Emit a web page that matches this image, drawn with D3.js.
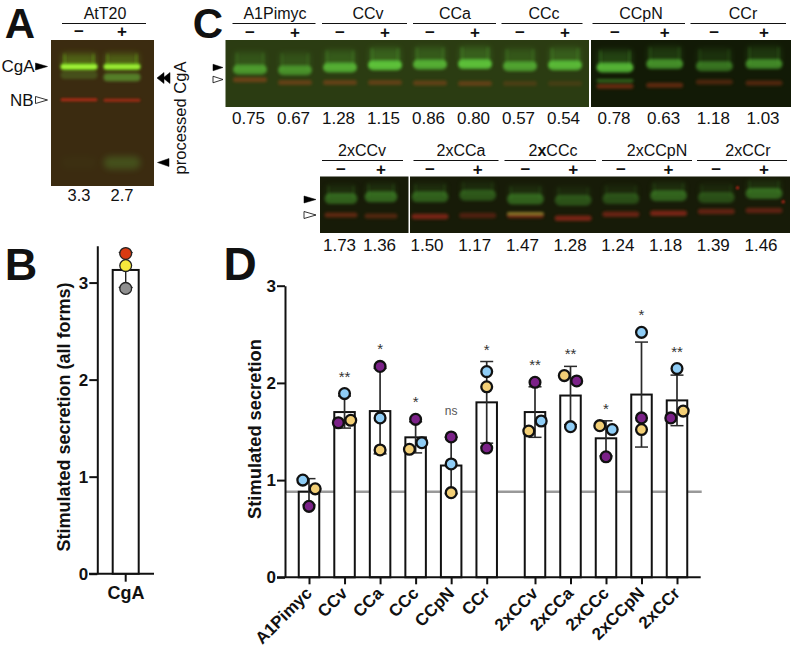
<!DOCTYPE html>
<html><head><meta charset="utf-8">
<script src="https://cdn.jsdelivr.net/npm/d3@7/dist/d3.min.js"></script>
<style>
html,body{margin:0;padding:0;background:#fff}
svg{display:block}
text{font-family:"Liberation Sans",Arial,sans-serif;fill:#111}
</style></head><body>
<svg id="c" width="791" height="650"></svg>
<script>
// ---------- Panel D data ----------
const singles = ["A1Pimyc","CCv","CCa","CCc","CCpN","CCr"];
const doubles = ["2xCCv","2xCCa","2xCCc","2xCCpN","2xCCr"];
const categories = singles.concat(doubles);
const means   = [0.88,1.70,1.71,1.44,1.15,1.80,1.70,1.87,1.43,1.88,1.82];
const sds     = [0.135,0.165,0.44,0.16,0.29,0.42,0.26,0.30,0.18,0.54,0.26];
const blue    = [1.00,1.89,1.64,1.385,1.166,2.116,1.608,1.55,1.52,2.52,2.147];
const yellow  = [0.91,1.615,1.31,1.317,0.871,1.96,1.505,2.075,1.56,1.52,1.71];
const purple  = [0.73,1.59,2.17,1.625,1.444,1.33,2.006,2.02,1.24,1.64,1.64];
const leftOfPair = ["blue","purple","","yellow","","","yellow","yellow","yellow","","purple"];
const signif  = ["","**","*","*","ns","*","**","**","*","*","**"];
const baseline = 0.88;

// ---------- Panel B data ----------
const panelBCategory = ["CgA"];
const panelBMean = [3.13];
const panelBSd = [0.18];
const panelBPoints = [3.30,3.175,2.94];
const panelBColors = ["#d93a12","#f5e83c","#8f8f8f"];

// ---------- Blot labels ----------
const topGroups = ["A1Pimyc","CCv","CCa","CCc","CCpN","CCr"];
const bottomGroups = ["2xCCv","2xCCa","2xCCc","2xCCpN","2xCCr"];
const signs = ["−","+"];
const panelAValues = ["3.3","2.7"];
const topValuesL = ["0.75","0.67","1.28","1.15","0.86","0.80","0.57","0.54"];
const topValuesR = ["0.78","0.63","1.18","1.03"];
const bottomValuesL = ["1.73","1.36"];
const bottomValuesR = ["1.50","1.17","1.47","1.28","1.24","1.18","1.39","1.46"];

// ---------- Blot band readings: migration as % of blot height, intensity 0-1 ----------
const panelAGreen1 = [18.3,18.3], panelAGreen1I = [1,0.95];
const panelAGreen2 = [24,25.5],   panelAGreen2I = [0.22,0.5];
const panelARed    = [41,41.2],   panelARedI    = [0.62,0.55];
const panelAProc   = [84,84],     panelAProcI   = [0.03,0.28];

const topLGreen = [44,45,41,37.5,36.5,36,39,37.5], topLGreenI = [0.55,0.5,0.68,0.82,0.68,0.8,0.6,0.75];
const topLRed   = [59.5,63.5,63.5,63.5,64,65,65,65], topLRedI = [0.45,0.4,0.4,0.38,0.38,0.38,0.22,0.18];
const topRGreen = [41,36,39,36], topRGreenI = [0.75,0.55,0.42,0.52];
const topRGreen2 = [61,61,61,61], topRGreen2I = [0.4,0,0,0];
const topRRed   = [69,67.5,62.5,64], topRRedI = [0.55,0.5,0.38,0.42];
const botLGreen = [39,36], botLGreenI = [0.42,0.45];
const botLRed   = [68,70], botLRedI = [0.42,0.35];
const botRGreen = [36,33,40,42,39,34,37,30], botRGreenI = [0.4,0.35,0.42,0.32,0.3,0.42,0.3,0.45];
const botRRed   = [71,69,69,74,67,65,62,60], botRRedI = [0.62,0.36,0.52,0.62,0.52,0.62,0.48,0.45];
const botRYellow = [67,67,66,67,67,67,67,67], botRYellowI = [0,0,0.5,0,0,0,0,0];
const botRSpeckX = [86.2,98.2], botRSpeckY = [19.8,44.6];

const svg = d3.select("#c");
const defs = svg.append("defs");
[["b1",0.9],["b2",1.6],["b3",3]].forEach(([id,s])=>{
  defs.append("filter").attr("id",id).attr("x","-30%").attr("y","-100%").attr("width","160%").attr("height","300%")
    .append("feGaussianBlur").attr("stdDeviation",s);
});

function label(g,txt,x,y,size,opts={}){
  return g.append("text").attr("x",x).attr("y",y).attr("font-size",size)
    .attr("text-anchor",opts.anchor||"middle").attr("font-weight",opts.weight||"normal")
    .attr("letter-spacing",opts.spacing||0).text(txt);
}
function arrow(g,tipX,y,filled,w=12,h=7){
  const p=d3.path(); p.moveTo(tipX,y); p.lineTo(tipX-w,y-h/2); p.lineTo(tipX-w,y+h/2); p.closePath();
  g.append("path").attr("d",p.toString()).attr("fill",filled?"#000":"#fff").attr("stroke","#000").attr("stroke-width",filled?0.5:0.8);
}
function rule(g,x0,x1,y){ g.append("line").attr("x1",x0).attr("x2",x1).attr("y1",y).attr("y2",y).attr("stroke","#111").attr("stroke-width",1.2); }

function blot(g,box,lanes,laneWidth,bg,tracks){
  const clip="clip"+Math.round(box.x0)+"_"+Math.round(box.y0);
  defs.append("clipPath").attr("id",clip).append("rect").attr("x",box.x0).attr("y",box.y0).attr("width",box.x1-box.x0).attr("height",box.y1-box.y0);
  g.append("rect").attr("x",box.x0).attr("y",box.y0).attr("width",box.x1-box.x0).attr("height",box.y1-box.y0).attr("fill",bg);
  const inner=g.append("g").attr("clip-path",`url(#${clip})`);
  const yS=d3.scaleLinear([0,100],[box.y0,box.y1]);
  tracks.forEach(t=>{
    lanes.domain().forEach((l,i)=>{
      const cx=lanes(l), cy=yS(t.ys[i]), k=t.is[i];
      if(!k) return;
      if(t.haze){
        inner.append("rect").attr("x",cx-laneWidth/2+2).attr("width",laneWidth-4).attr("y",cy-t.haze).attr("height",t.haze)
          .attr("fill",t.color).attr("opacity",k*0.3).attr("filter","url(#b3)");
        [-1,1].forEach(s=>inner.append("rect").attr("x",cx+s*(laneWidth/2-4)-1.5).attr("width",3).attr("y",cy-t.haze).attr("height",t.haze)
          .attr("fill",t.color).attr("opacity",k*0.25).attr("filter","url(#b2)"));
      }
      inner.append("rect").attr("x",cx-laneWidth/2).attr("width",laneWidth).attr("y",cy-t.h/2).attr("height",t.h).attr("rx",t.h/2)
        .attr("fill",t.color).attr("opacity",Math.min(1,k)).attr("filter",`url(#${t.blur||"b2"})`);
      if(t.core){
        inner.append("rect").attr("x",cx-laneWidth/2+1).attr("width",laneWidth-2).attr("y",cy-t.h/5).attr("height",t.h*0.4)
          .attr("fill",t.core).attr("opacity",k*k*(t.coreK||0.3)).attr("filter","url(#b1)");
      }
    });
  });
  return {inner,box};
}
function laneText(g,lanes,texts,y,size,opts={}){
  lanes.domain().forEach((l,i)=>label(g,texts[i],lanes(l)+(opts.dx||0),y,size,opts));
}
const signsFor = n => d3.range(n).map(i=>signs[i%2]);

// ---------- Panel A ----------
const A=svg.append("g");
label(A,"A",20,38,42,{weight:"bold"});
const aLanes=d3.scalePoint(["−","+"],[79,122]);
blot(A,{x0:51,x1:154,y0:40,y1:186},aLanes,37,"#3b2b10",[
  {ys:panelAProc,is:panelAProcI,color:"#5fb03a",h:13,blur:"b3"},
  {ys:panelAGreen2,is:panelAGreen2I,color:"#6fd040",h:8},
  {ys:panelARed,is:panelARedI,color:"#d42a18",h:3.5,blur:"b1"},
  {ys:panelAGreen1,is:panelAGreen1I,color:"#7fe024",h:6.5,haze:13,core:"#c6ff50",coreK:0.6}
]);
label(A,"AtT20",105,19,16);
rule(A,62,146,23.5);
laneText(A,aLanes,signs,36.5,17,{weight:"bold"});
laneText(A,aLanes,panelAValues,201,16.5);
label(A,"CgA",1.5,71.7,17,{anchor:"start"});
label(A,"NB",10,106,17,{anchor:"start"});
arrow(A,47.5,66.5,true); arrow(A,47.5,100,false);
arrow(A,157,78,true,-7,11);
arrow(A,163,78,true,-7,11);
arrow(A,157.5,162.5,true,-11.5,8);
label(A,"processed CgA",0,0,16.5).attr("transform","translate(186,118) rotate(-90)");

// ---------- Panel C ----------
const C=svg.append("g");
label(C,"C",208,38,42,{weight:"bold"});
const greenStyle={color:"#5fd03c",h:10,haze:17,core:"#7ce44a"};
const redStyle={color:"#b84a1a",h:5};
const tL=d3.scalePoint(d3.range(8),[250,565]);
const tR=d3.scalePoint(d3.range(4),[615,764]);
blot(C,{x0:225.5,x1:589,y0:40,y1:107},tL,34,"#2b3c12",[
  {ys:topLRed,is:topLRedI,...redStyle},{ys:topLGreen,is:topLGreenI,...greenStyle}]);
blot(C,{x0:591,x1:791,y0:40,y1:107},tR,37,"#121a06",[
  {ys:topRRed,is:topRRedI,...redStyle,color:"#a83818"},
  {ys:topRGreen2,is:topRGreen2I,color:"#5fd03c",h:3.5},
  {ys:topRGreen,is:topRGreenI,...greenStyle}]);
[[232.5,315.5,275],[322,407,368],[413,496,455],[501.5,582.5,544],[592.5,685,641],[690.5,786,743]]
 .forEach((r,i)=>{rule(C,r[0],r[1],23.5);label(C,topGroups[i],r[2],19,16);});
laneText(C,tL,signsFor(8),37.5,17,{weight:"bold"});
laneText(C,tR,signsFor(4),37.5,17,{weight:"bold"});
laneText(C,tL,topValuesL,124,17,{dx:-1.5});
laneText(C,tR,topValuesR,124,17,{dx:-1});
arrow(C,223,67.5,true,10,6.5); arrow(C,223,79.5,false,10,6.5);

const bL=d3.scalePoint(d3.range(2),[341,381]);
const bR=d3.scalePoint(d3.range(8),[430,764]);
const botGreen={...greenStyle,color:"#52b838",h:11,haze:13,core:null};
blot(C,{x0:320,x1:408.5,y0:176.5,y1:233},bL,33,"#171b08",[
  {ys:botLRed,is:botLRedI,color:"#c03a1c",h:5},{ys:botLGreen,is:botLGreenI,...botGreen}]);
const bRBlot=blot(C,{x0:410,x1:790,y0:176.5,y1:233},bR,37,"#171b08",[
  {ys:botRRed,is:botRRedI,color:"#b02c1a",h:5.5},
  {ys:botRYellow,is:botRYellowI,color:"#b8cc40",h:3.5},
  {ys:botRGreen,is:botRGreenI,...botGreen}]);
const spX=d3.scaleLinear([0,100],[410,790]), spY=d3.scaleLinear([0,100],[176.5,233]);
botRSpeckX.forEach((v,i)=>bRBlot.inner.append("circle").attr("cx",spX(v)).attr("cy",spY(botRSpeckY[i])).attr("r",1.5).attr("fill","#d0281c").attr("filter","url(#b1)"));
[[322,403,362],[413.5,498.5,461],[504.5,596,553],[602,692,657],[697,787,748]]
 .forEach((r,i)=>{rule(C,r[0],r[1],160.5);
   const t=label(C,"",r[2],156,16);
   t.append("tspan").text("2");
   t.append("tspan").attr("font-weight",bottomGroups[i]==="2xCCc"?"bold":"normal").text("x");
   t.append("tspan").text(bottomGroups[i].slice(2));
 });
laneText(C,bL,signsFor(2),175,17,{weight:"bold"});
laneText(C,bR,signsFor(8),175,17,{weight:"bold"});
laneText(C,bL,bottomValuesL,251,17,{dx:-1.5});
laneText(C,bR,bottomValuesR,251,17,{dx:-3});
arrow(C,316,199.5,true,12,7); arrow(C,316,215,false,12,7);

// ---------- Panel B ----------
function styleAxis(g,size){
  g.selectAll(".domain,.tick line").attr("stroke","#111").attr("stroke-width",2);
  g.selectAll("text").attr("font-size",size).attr("font-weight","bold").attr("font-family",'"Liberation Sans",Arial,sans-serif').attr("fill","#111");
}
const B=svg.append("g");
label(B,"B",21,280,45,{weight:"bold"});
const byS=d3.scaleLinear([0,3.38],[573.7,245.7]);
const bxS=d3.scalePoint(panelBCategory,[125.7,125.7]);
const bAxis=B.append("g").attr("transform","translate(97.3,0)")
  .call(d3.axisLeft(byS).tickValues([0,1,2,3]).tickFormat(d3.format("d")).tickSize(8).tickPadding(1).tickSizeOuter(0));
styleAxis(bAxis,17);
B.append("line").attr("x1",89).attr("x2",154).attr("y1",byS(0)).attr("y2",byS(0)).attr("stroke","#111").attr("stroke-width",2);
const bw=26;
B.append("rect").attr("x",bxS("CgA")-bw/2).attr("y",byS(panelBMean[0])).attr("width",bw).attr("height",byS(0)-byS(panelBMean[0])).attr("fill","#fff").attr("stroke","#111").attr("stroke-width",2);
B.append("line").attr("x1",bxS("CgA")).attr("x2",bxS("CgA")).attr("y1",byS(panelBMean[0]+panelBSd[0])).attr("y2",byS(panelBMean[0]-panelBSd[0])).attr("stroke","#222").attr("stroke-width",1.4);
[panelBMean[0]+panelBSd[0],panelBMean[0]-panelBSd[0]].forEach(v=>
  B.append("line").attr("x1",bxS("CgA")-7).attr("x2",bxS("CgA")+7).attr("y1",byS(v)).attr("y2",byS(v)).attr("stroke","#222").attr("stroke-width",1.2));
B.selectAll("circle").data(panelBPoints).join("circle").attr("cx",bxS("CgA")).attr("cy",d=>byS(d)).attr("r",5.9)
  .attr("fill",(d,i)=>panelBColors[i]).attr("stroke","#222").attr("stroke-width",1.3);
B.append("line").attr("x1",bxS("CgA")).attr("x2",bxS("CgA")).attr("y1",byS(0)).attr("y2",byS(0)+8).attr("stroke","#111").attr("stroke-width",2);
label(B,"CgA",126,599,18,{weight:"bold"});
label(B,"Stimulated secretion (all forms)",0,0,18,{weight:"bold"}).attr("transform","translate(70,417) rotate(-90)");

// ---------- Panel D ----------
const D=svg.append("g");
label(D,"D",240,280,46,{weight:"bold"});
const y=d3.scaleLinear([0,3],[577.3,285.7]);
const xS=d3.scalePoint(singles,[309,486.7]);
const xD=d3.scalePoint(doubles,[535,677]);
const x=c=>singles.includes(c)?xS(c):xD(c);
D.append("line").attr("x1",286).attr("x2",701.7).attr("y1",y(baseline)).attr("y2",y(baseline)).attr("stroke","#999").attr("stroke-width",2.6);

const yAxis=D.append("g").attr("transform","translate(285,0)")
  .call(d3.axisLeft(y).tickValues([0,1,2,3]).tickFormat(d3.format("d")).tickSize(8).tickPadding(1).tickSizeOuter(0));
styleAxis(yAxis,17);
const bw2=20.5;
D.selectAll("rect.bar").data(categories).join("rect").attr("class","bar")
  .attr("x",c=>x(c)-bw2/2).attr("width",bw2).attr("y",(c,i)=>y(means[i])).attr("height",(c,i)=>y(0)-y(means[i]))
  .attr("fill","#fff").attr("stroke","#111").attr("stroke-width",2);
D.append("line").attr("x1",277).attr("x2",700.7).attr("y1",y(0)).attr("y2",y(0)).attr("stroke","#111").attr("stroke-width",2);

[[singles,xS],[doubles,xD]].forEach(([cats,sc])=>{
  const ax=D.append("g").attr("transform",`translate(0,${y(0)})`)
    .call(d3.axisBottom(sc).tickSize(7).tickSizeOuter(0));
  ax.select(".domain").remove();
  styleAxis(ax,17);
  ax.selectAll("text").attr("text-anchor","end").attr("y",0).attr("dy",0).attr("x",0)
    .attr("transform","translate(3.5,17) rotate(-45)");
});

categories.forEach((c,i)=>{
  const cx=x(c), hi=means[i]+sds[i], lo=means[i]-sds[i];
  const g=D.append("g").attr("stroke","#2a2a2a");
  g.append("line").attr("x1",cx).attr("x2",cx).attr("y1",y(hi)).attr("y2",y(lo)).attr("stroke-width",1.7);
  [hi,lo].forEach(v=>g.append("line").attr("x1",cx-6.5).attr("x2",cx+6.5).attr("y1",y(v)).attr("y2",y(v)).attr("stroke-width",1.5));
  const pts=[{n:"blue",v:blue[i],f:"#8fcdf6"},{n:"yellow",v:yellow[i],f:"#f3cf76"},{n:"purple",v:purple[i],f:"#7b2188"}];
  pts.forEach(p=>{p.dx=0;});
  pts.forEach(a=>pts.forEach(b=>{
    if(a!==b && a.n===leftOfPair[i] && Math.abs(a.v-b.v)<0.11){a.dx=-6.2;b.dx=6.2;}
  }));
  pts.forEach(p=>{
    D.append("circle").attr("cx",cx+p.dx).attr("cy",y(p.v)).attr("r",5.4).attr("fill",p.f).attr("stroke","#111").attr("stroke-width",2.3);
  });
  if(signif[i]){
    const top=Math.min(y(d3.max(pts,p=>p.v))-20,y(hi)-15);
    const ns=signif[i]==="ns";
    const t=label(D,signif[i],cx,ns?top-2:top+8,ns?12:15);
    t.style("fill",ns?"#555":"#333");
  }
});
label(D,"Stimulated secretion",0,0,18.3,{weight:"bold"}).attr("transform","translate(261,429) rotate(-90)");
</script>
</body></html>
